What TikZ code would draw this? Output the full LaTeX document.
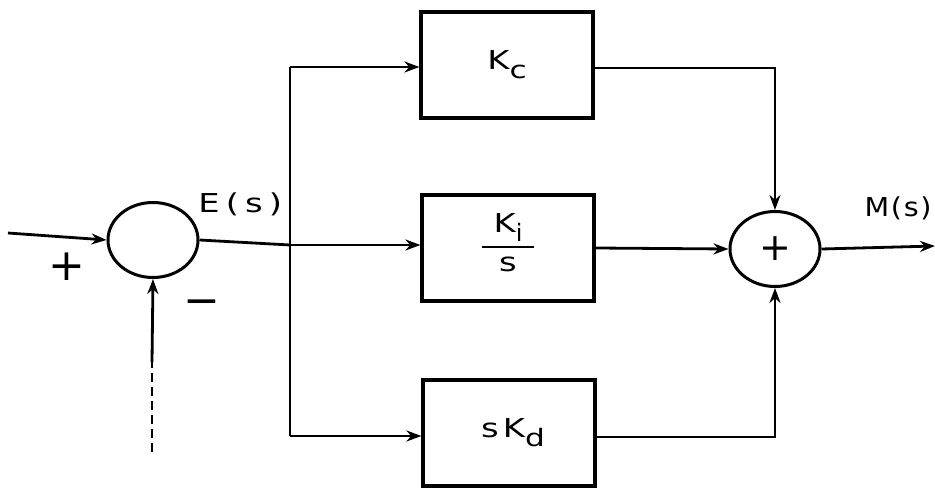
\documentclass[tikz,border=0pt]{standalone}
\usepackage{fontspec}
\setmainfont{DejaVu Sans}[LetterSpace=18]
\newfontfamily\tightfont{DejaVu Sans}[LetterSpace=6]
\usetikzlibrary{arrows.meta,shapes.geometric}
\newcommand{\subtxt}[1]{\raisebox{-0.35em}{\fontsize{24}{24}\selectfont #1}}
\newcommand{\wide}[1]{\scalebox{1.3}[1]{#1}}
\begin{document}
\begin{tikzpicture}[x=1pt,y=-1pt,
  line width=2.8pt,
  blockbox/.style={draw,line width=3.2pt,minimum width=172pt,minimum height=106pt,inner sep=0pt},
  summer/.style={draw,ellipse,line width=3pt,minimum width=90pt,minimum height=75pt,inner sep=0pt},
  sig/.style={-{Stealth[length=15pt,width=11pt]}},
  lbl/.style={font=\fontsize{26}{26}\selectfont,inner sep=0pt},
  sign/.style={font=\fontsize{44}{44}\selectfont,inner sep=0pt},
  gain/.style={font=\fontsize{26}{26}\selectfont,inner sep=0pt}]
\useasboundingbox (0,0) rectangle (935,494);
% summing junctions
\node[summer] (err) at (153,240) {};
\node[summer] (sum) at (775,249) {};
\node[font=\fontsize{38}{38}\selectfont,inner sep=0pt] (sumplus) at (sum.center) {+};
% controller blocks
\node[blockbox] (kc) at (507,65) {};
\node[blockbox] (ki) at (508,248) {};
\node[blockbox] (kd) at (509,433) {};
\node[gain] (kct) at (kc.center) {\wide{K}\subtxt{\wide{c}}};
\node[gain,anchor=south] (kin) at ([yshift=5pt]ki.center) {\wide{K}\subtxt{i}};
\node[gain,anchor=north] (kis) at ([yshift=-8pt]ki.center) {\wide{s}};
\draw[line width=1.8pt] ([xshift=-26pt,yshift=1pt]ki.center) -- ([xshift=26pt,yshift=1pt]ki.center);
\node[gain] (kdt) at ([xshift=4pt]kd.center) {\wide{s}\,\wide{K}\subtxt{\wide{d}}};
% reference input and feedback
\coordinate (in) at (8,233);
\coordinate (fb) at (152,452);
\coordinate (fbs) at (152,362);
\draw[sig] (in) -- (err.west);
\draw[dashed,dash pattern=on 9pt off 5pt] (fb) -- (fbs);
\draw[sig] (fbs) -- (err.south);
\node[sign] (plus) at (67,267) {+};
\node[sign] (minus) at (202,308) {\textminus};
\node[lbl,anchor=west] (es) at (197,204) {\wide{E(s)}};
% branching of the error signal
\coordinate (br) at (290,245);
\coordinate (brt) at (290,67);
\coordinate (brb) at (290,436);
\draw (err.east) -- (br);
\draw (brt) -- (brb);
\draw[sig] (brt) -- (kc.west |- brt);
\draw[sig] (br) -- (ki.west |- br);
\draw[sig] (brb) -- (kd.west |- brb);
% block outputs to the summer
\draw[sig] (kc.east |- 0,68) -| (sum.north);
\draw[sig] (ki.east |- 0,248) -- (sum.west);
\draw[sig] (kd.east |- 0,437) -| (sum.south);
% controller output
\coordinate (out) at (935,246);
\draw[sig] (sum.east) -- (out);
\node[lbl,anchor=east,font=\fontsize{26}{26}\tightfont] (ms) at (933,208) {\scalebox{1.1}[1]{M(s)}};
\end{tikzpicture}
\end{document}
